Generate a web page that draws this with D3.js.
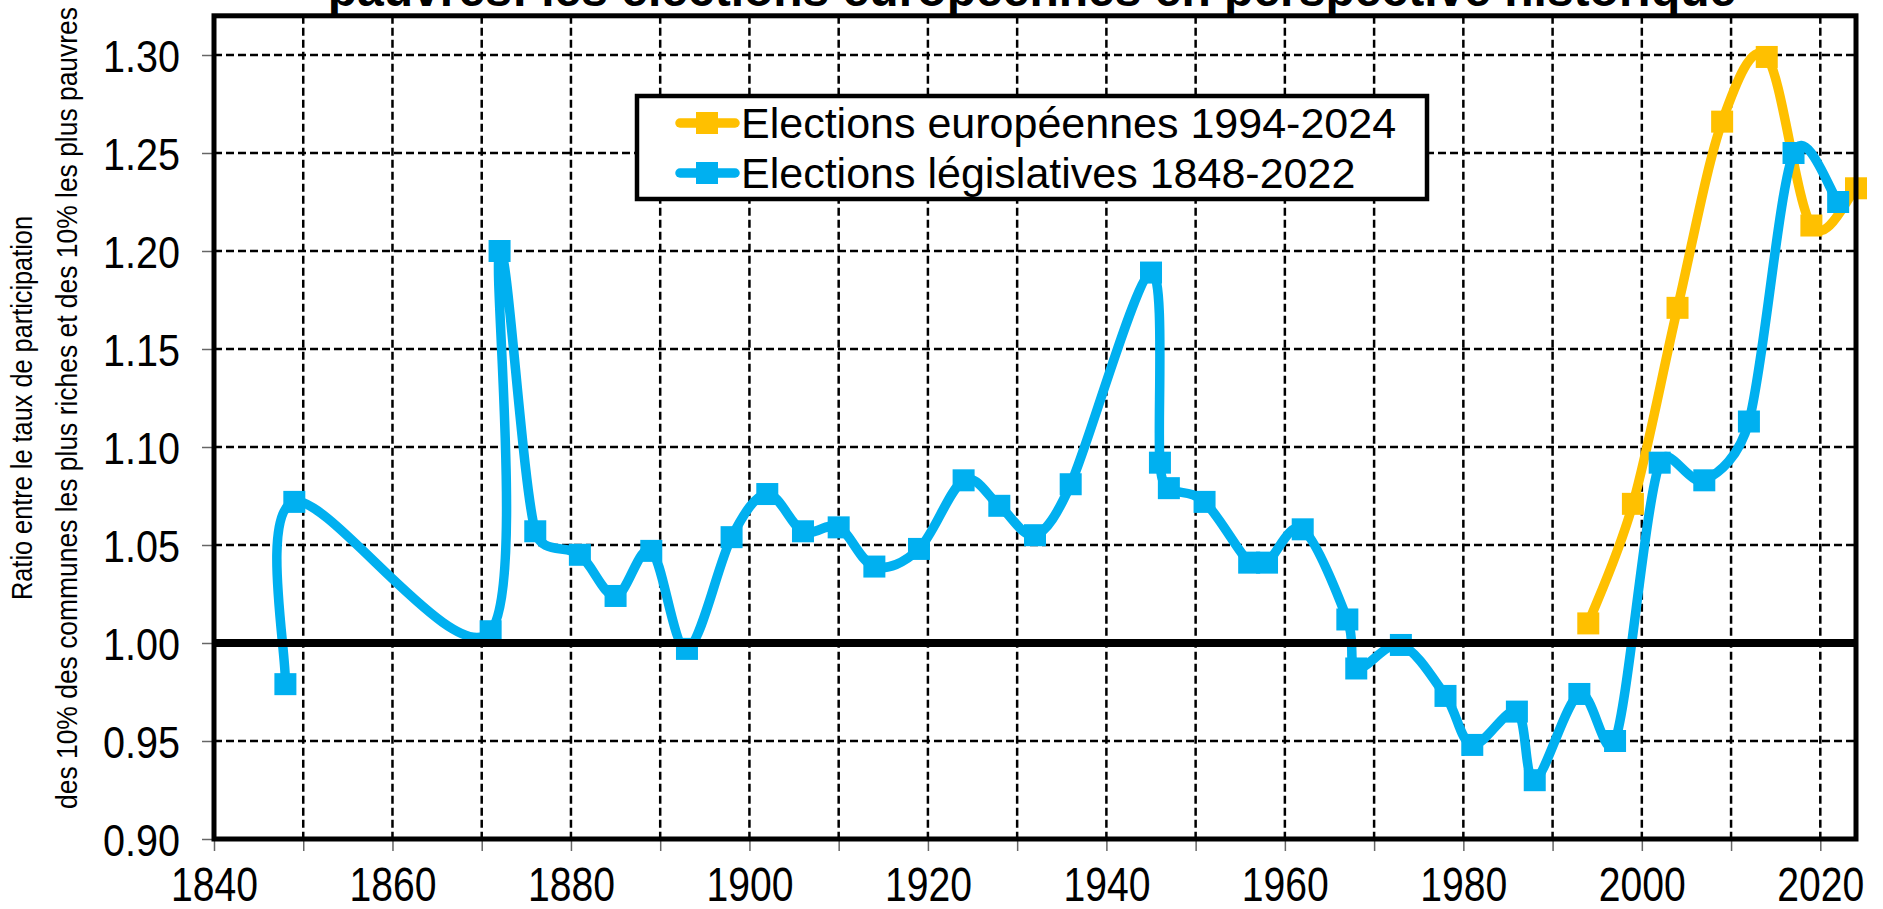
<!DOCTYPE html>
<html>
<head>
<meta charset="utf-8">
<script src="https://cdn.jsdelivr.net/npm/d3@7"></script>
<style>
  html, body { margin:0; padding:0; background:#fff; overflow:hidden; }
  svg { display:block; font-family:"Liberation Sans", Arial, sans-serif; }
</style>
</head>
<body>
<svg id="chart" width="1883" height="909"></svg>
<script>
// données
var legisYears = [1848,1849,1871,1872,1876,1881,1885,1889,1893,1898,1902,1906,1910,1914,1919,1924,1928,1932,1936,1945,1946,1947,1951,1956,1958,1962,1967,1968,1973,1978,1981,1986,1988,1993,1997,2002,2007,2012,2017,2022];
var legisValues = [0.979,1.072,1.006,1.200,1.057,1.045,1.024,1.047,0.997,1.054,1.076,1.057,1.059,1.039,1.048,1.083,1.070,1.055,1.081,1.189,1.092,1.079,1.072,1.041,1.041,1.058,1.012,0.987,0.999,0.973,0.948,0.965,0.930,0.974,0.950,1.092,1.083,1.113,1.250,1.225];
var euroYears = [1994,1999,2004,2009,2014,2019,2024];
var euroValues = [1.010,1.071,1.171,1.266,1.299,1.213,1.232];
var seriesNames = ["Elections européennes 1994-2024","Elections législatives 1848-2022"];
var seriesColors = ["#FFC000","#00B0F0"];
var xTicks = [1840,1850,1860,1870,1880,1890,1900,1910,1920,1930,1940,1950,1960,1970,1980,1990,2000,2010,2020];
var yTicks = [0.90,0.95,1.00,1.05,1.10,1.15,1.20,1.25,1.30];
var titleText = "pauvres: les élections européennes en perspective historique";
var yTitleLines = ["Ratio entre le taux de participation","des 10% des communes les plus riches et des 10% les plus pauvres"];

var svg = d3.select('#chart');
var plotLeft = 214, plotRight = 1856, plotTop = 15.8, plotBottom = 839;

var x = d3.scaleLinear().domain([1840,2024]).range([plotLeft,plotRight]);
var y = d3.scaleLinear().domain([0.90,1.32]).range([plotBottom,plotTop]);

// lissage façon tableur : Catmull-Rom (1/6), point de contrôle limité à la moitié du segment
function smoothPath(pts){
   var n = pts.length;
   function dist(a,b){ return Math.hypot(a[0]-b[0],a[1]-b[1]); }
   function tangent(i){
      var prev = pts[Math.max(i-1,0)], next = pts[Math.min(i+1,n-1)];
      return [next[0]-prev[0], next[1]-prev[1]];
   }
   var p = d3.path();
   p.moveTo(pts[0][0],pts[0][1]);
   for (var j = 0; j < n-1; j++) {
      var a = pts[j], b = pts[j+1], d = dist(a,b);
      var t1 = tangent(j), t2 = tangent(j+1);
      var l1 = Math.hypot(t1[0],t1[1]), l2 = Math.hypot(t2[0],t2[1]);
      var f1 = l1 ? Math.min(1/6, d/(2*l1)) : 0;
      var f2 = l2 ? Math.min(1/6, d/(2*l2)) : 0;
      p.bezierCurveTo(a[0]+t1[0]*f1, a[1]+t1[1]*f1,
                      b[0]-t2[0]*f2, b[1]-t2[1]*f2,
                      b[0], b[1]);
   }
   return p.toString();
}

// titre (coupé en haut)
svg.append('text')
   .attr('x',1032).attr('y',6)
   .attr('text-anchor','middle')
   .attr('font-weight','bold')
   .attr('font-size',48)
   .text(titleText);

// grille
var grid = svg.append('g')
   .attr('stroke','#000').attr('stroke-width',2.5).attr('stroke-dasharray','8,4');
grid.selectAll('line.v').data(xTicks.filter(function(d){return d>1840;}))
   .enter().append('line')
   .attr('x1',function(d){return x(d);}).attr('x2',function(d){return x(d);})
   .attr('y1',plotTop).attr('y2',plotBottom);
grid.selectAll('line.h').data(yTicks.filter(function(d){return d>0.9;}))
   .enter().append('line')
   .attr('y1',function(d){return y(d);}).attr('y2',function(d){return y(d);})
   .attr('x1',plotLeft).attr('x2',plotRight);

// séries
var series = [d3.zip(euroYears,euroValues), d3.zip(legisYears,legisValues)];
series.forEach(function(pts,i){
   var g = svg.append('g');
   var px = pts.map(function(d){ return [x(d[0]), y(d[1])]; });
   g.append('path')
      .attr('d',smoothPath(px))
      .attr('fill','none')
      .attr('stroke',seriesColors[i])
      .attr('stroke-width',9.5)
      .attr('stroke-linejoin','round')
      .attr('stroke-linecap','round');
   g.selectAll('rect').data(pts).enter().append('rect')
      .attr('x',function(d){return x(d[0])-11;})
      .attr('y',function(d){return y(d[1])-11;})
      .attr('width',22).attr('height',22)
      .attr('fill',seriesColors[i]);
});

// ligne 1.00
svg.append('line')
   .attr('x1',plotLeft).attr('x2',plotRight)
   .attr('y1',y(1)).attr('y2',y(1))
   .attr('stroke','#000').attr('stroke-width',8);

// axes
var xAxis = d3.axisBottom(x).tickValues(xTicks).tickSize(12)
   .tickFormat(function(d){return d%20===0 ? d : '';});
var gx = svg.append('g').attr('transform','translate(0,'+plotBottom+')').call(xAxis);
gx.select('.domain').remove();
gx.selectAll('line').attr('stroke','#666').attr('stroke-width',1.5);
gx.selectAll('text')
   .attr('y',62).attr('dy',0)
   .attr('font-size',48)
   .attr('fill','#000')
   .attr('font-family','"Liberation Sans", Arial, sans-serif')
   .attr('textLength',function(d){return d%20===0 ? 87 : null;})
   .attr('lengthAdjust','spacingAndGlyphs');

var yAxis = d3.axisLeft(y).tickValues(yTicks).tickSize(12).tickPadding(22)
   .tickFormat(d3.format('.2f'));
var gy = svg.append('g').attr('transform','translate('+plotLeft+',0)').call(yAxis);
gy.select('.domain').remove();
gy.selectAll('line').attr('stroke','#666').attr('stroke-width',1.5);
gy.selectAll('text')
   .attr('font-size',45)
   .attr('fill','#000')
   .attr('font-family','"Liberation Sans", Arial, sans-serif')
   .attr('dy','0.36em')
   .attr('textLength',77)
   .attr('lengthAdjust','spacingAndGlyphs');

// cadre
svg.append('rect')
   .attr('x',plotLeft).attr('y',plotTop)
   .attr('width',plotRight-plotLeft).attr('height',plotBottom-plotTop)
   .attr('fill','none').attr('stroke','#000').attr('stroke-width',5);

// titre de l'axe vertical
var yTitleX = [32,77], yTitleLen = [384,802];
yTitleLines.forEach(function(t,i){
   svg.append('text')
      .attr('transform','translate('+yTitleX[i]+',408) rotate(-90)')
      .attr('text-anchor','middle')
      .attr('font-size',30)
      .attr('textLength',yTitleLen[i])
      .attr('lengthAdjust','spacingAndGlyphs')
      .text(t);
});

// légende
var lg = svg.append('g');
lg.append('rect')
   .attr('x',637).attr('y',96).attr('width',790).attr('height',103)
   .attr('fill','#fff').attr('stroke','#000').attr('stroke-width',4.5);
seriesNames.forEach(function(name,i){
   var cy = 123 + i*50;
   lg.append('line')
      .attr('x1',680).attr('x2',735).attr('y1',cy).attr('y2',cy)
      .attr('stroke',seriesColors[i]).attr('stroke-width',9.5)
      .attr('stroke-linecap','round');
   lg.append('rect')
      .attr('x',696).attr('y',cy-11).attr('width',22).attr('height',22)
      .attr('fill',seriesColors[i]);
   lg.append('text')
      .attr('x',741).attr('y',cy+15)
      .attr('font-size',43)
      .text(name);
});
</script>
</body>
</html>
